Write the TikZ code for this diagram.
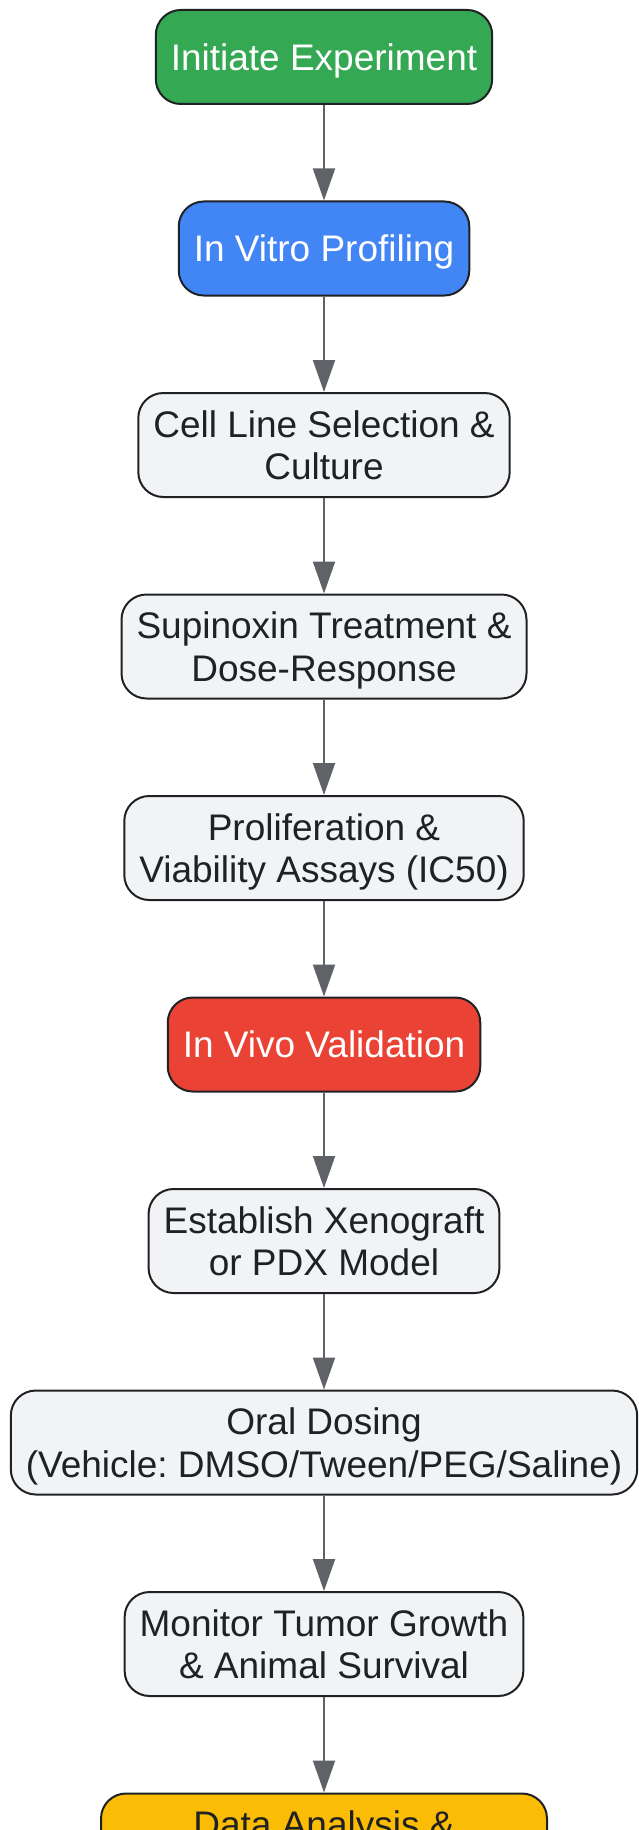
\documentclass[tikz,border=0pt]{standalone}
\usepackage{fontspec}
\setmainfont{Liberation Sans}
\usetikzlibrary{shapes,arrows.meta,positioning}
\definecolor{gGreen}{HTML}{34A853}
\definecolor{gBlue}{HTML}{4285F4}
\definecolor{gRed}{HTML}{EA4335}
\definecolor{gYellow}{HTML}{FBBC05}
\definecolor{gGrey}{HTML}{F1F3F4}
\definecolor{gInk}{HTML}{202124}
\definecolor{gArrow}{HTML}{5F6368}
\frenchspacing

\begin{document}
\begin{tikzpicture}[
  node distance=95.5pt,
  stage/.style={draw=gInk, line width=2pt, rounded corners=25pt,
    fill=gGrey, text=gInk, align=center,
    font=\fontsize{37}{42.5}\selectfont, text depth=-1pt,
    inner xsep=15pt, inner ysep=0pt, minimum height=104pt},
  phase/.style={stage, text=white, minimum height=94pt},
  flow/.style={draw=gArrow, line width=2pt,
    -{Triangle[length=32pt,width=22pt]}},
]
\useasboundingbox (0,0) rectangle (638pt,-1830pt);

\node[phase, fill=gGreen] (init) at (324pt,-57pt) {Initiate Experiment};
\node[phase, fill=gBlue, below=of init] (vitro) {In Vitro Profiling};
\node[stage, below=of vitro] (cells) {Cell Line Selection \&\\Culture};
\node[stage, below=of cells] (dose) {Supinoxin Treatment \&\\Dose-Response};
\node[stage, below=of dose] (assay) {Proliferation \&\\Viability Assays (IC50)};
\node[phase, fill=gRed, below=of assay] (vivo) {In Vivo Validation};
\node[stage, below=of vivo] (model) {Establish Xenograft\\or PDX Model};
\node[stage, below=of model] (oral) {Oral Dosing\\(Vehicle: DMSO/Tween/PEG/Saline)};
\node[stage, below=of oral] (monitor) {Monitor Tumor Growth\\\& Animal Survival};
\node[stage, fill=gYellow, minimum width=446pt, below=of monitor] (analysis) {Data Analysis \&\\\mbox{}};

\draw[flow] (init) -- (vitro);
\draw[flow] (vitro) -- (cells);
\draw[flow] (cells) -- (dose);
\draw[flow] (dose) -- (assay);
\draw[flow] (assay) -- (vivo);
\draw[flow] (vivo) -- (model);
\draw[flow] (model) -- (oral);
\draw[flow] (oral) -- (monitor);
\draw[flow] (monitor) -- (analysis);
\end{tikzpicture}
\end{document}
